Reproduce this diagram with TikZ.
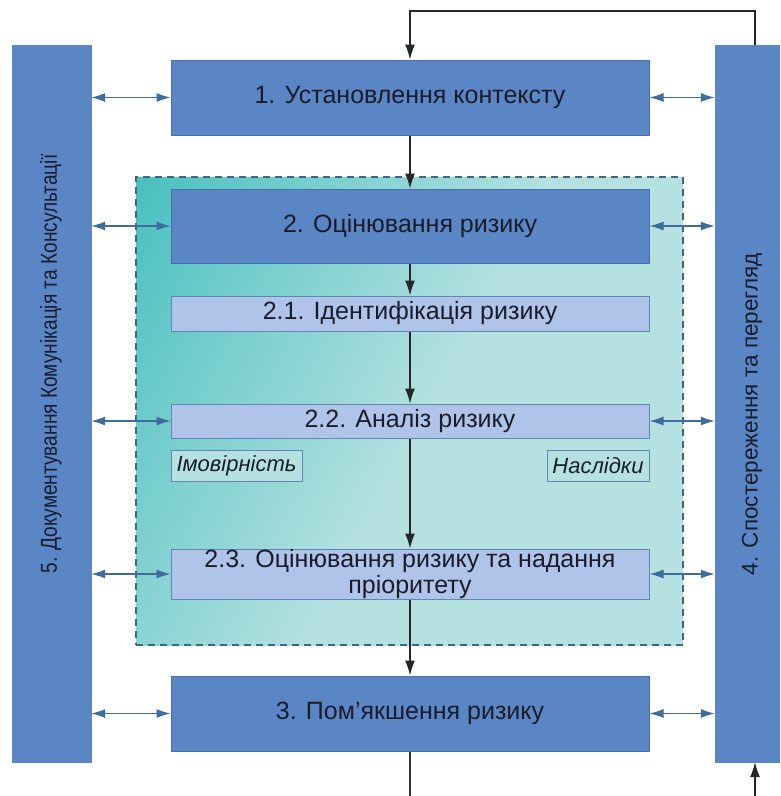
\documentclass[tikz,border=0pt]{standalone}
\usepackage{fontspec}
\usepackage{graphicx}
\setmainfont{Liberation Sans}
\usetikzlibrary{arrows.meta}

\definecolor{boxblue}{HTML}{5A86C5}
\definecolor{boxedge}{HTML}{4670AC}
\definecolor{subblue}{HTML}{AFC4E8}
\definecolor{subedge}{HTML}{5F86B5}
\definecolor{tealdark}{HTML}{16B0B0}
\definecolor{teallight}{HTML}{B6E1E1}
\definecolor{frameedge}{HTML}{3C6888}
\definecolor{linkblue}{HTML}{3E6C9E}
\definecolor{linkline}{HTML}{6F8EAE}
\definecolor{textdark}{HTML}{1A1C2C}

\pgfdeclarehorizontalshading{frameshade}{100bp}{color(0bp)=(tealdark); color(28bp)=(tealdark!45!teallight); color(52bp)=(teallight); color(100bp)=(teallight)}

\begin{document}
\begin{tikzpicture}[x=1pt,y=-1pt,
		main node/.style={rectangle,draw=boxedge,fill=boxblue,line width=1pt,minimum width=478pt,
			text=textdark,font=\fontsize{25}{26}\selectfont,inner sep=0pt},
		sub node/.style={rectangle,draw=subedge,fill=subblue,line width=1pt,minimum width=478pt,
			text=textdark,font=\fontsize{25}{26}\selectfont,inner sep=0pt,align=center},
		side node/.style={rectangle,draw=boxblue,fill=boxblue,minimum height=717pt},
		side text/.style={rotate=90,text=textdark,inner sep=0pt},
		note node/.style={rectangle,draw=subedge,fill=teallight,line width=1pt,minimum height=31pt,
			text=textdark,font=\fontsize{22}{24}\selectfont\itshape,inner sep=0pt},
		flow/.style={-{Latex[length=15pt,width=10pt]},line width=1.3pt,black!85},
		link/.style={{Latex[length=14pt,width=9pt]}-{Latex[length=14pt,width=9pt]},line width=1.1pt,
			draw=linkline,color=linkblue}]
	\useasboundingbox (0,0) rectangle (781,796);
	% рамка оцінювання ризику
	\node[rectangle,minimum width=547pt,minimum height=468pt,shading=frameshade,shading angle=-28,
		draw=frameedge,line width=2.5pt,dash pattern=on 7pt off 5pt] (frame) at (409.5,411) {};
	% бічні смуги
	\node[side node,minimum width=79pt] (lbar) at (51.5,403.5) {};
	\node[side text,font=\fontsize{23}{25}\selectfont] (ltext) at (51,364)
		{\scalebox{0.83}[1]{5. Документування Комунікація та Консультації}};
	\node[side node,minimum width=64pt] (rbar) at (747,403.5) {};
	\node[side text,font=\fontsize{22.5}{25}\selectfont] (rtext) at (752,414) {4. Спостереження та перегляд};
	% основні етапи
	\node[main node,minimum height=75pt] (box1) at (410,97.5) {1. Установлення контексту};
	\node[main node,minimum height=74pt] (box2) at (410,226) {2. Оцінювання ризику};
	\node[sub node,minimum height=35pt] (box21) at (410,313.5) {2.1. Ідентифікація ризику};
	\node[sub node,minimum height=34pt] (box22) at (410,421) {2.2. Аналіз ризику};
	\node[note node,minimum width=131pt] (prob) at (236.5,465.5) {Імовірність};
	\node[note node,minimum width=102pt] (cons) at (598,465.5) {Наслідки};
	\node[sub node,minimum height=50pt] (box23) at (410,574) {2.3. Оцінювання ризику та надання\\пріоритету};
	\node[main node,minimum height=75pt] (box3) at (410,713.5) {3. Пом’якшення ризику};
	% зворотний зв'язок
	\coordinate (top right) at (755,11);
	\coordinate (bottom mid) at (410,796);
	\coordinate (bottom right) at (755,796);

	\path[flow]
		(box1) edge (box2)
		(box2) edge (box21)
		(box21) edge (box22)
		(box22) edge (box23)
		(box23) edge (box3);
	\draw[line width=1.2pt,black!80] (box3.south) -- (bottom mid);
	\draw[flow,line width=1.2pt] (rbar.north -| top right) -- (top right) -| (box1.north);
	\draw[flow,line width=1.2pt] (bottom right) -- (rbar.south -| bottom right);
	\foreach \b in {box1,box2,box22,box23,box3} {
		\draw[link] (lbar.east |- \b.west) -- (\b.west);
		\draw[link] (\b.east) -- (rbar.west |- \b.east);
	}
\end{tikzpicture}
\end{document}
